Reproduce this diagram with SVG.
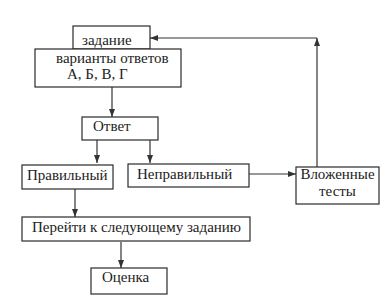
<svg xmlns="http://www.w3.org/2000/svg" width="390" height="300" viewBox="0 0 390 300">
<style>
.box{fill:#fff;stroke:#2a2a2a;stroke-width:1.2}
.t{font-family:"Liberation Serif","Times New Roman",serif;font-size:15px;fill:#222}
.c{fill:none;stroke:#333;stroke-width:1.2}
</style>
<defs>
<marker id="ah" viewBox="0 0 8 6" refX="8" refY="3" markerWidth="8" markerHeight="6" markerUnits="userSpaceOnUse" orient="auto">
<path d="M0,0 L8,3 L0,6 Z" fill="#333"/>
</marker>
</defs>
<rect width="390" height="300" fill="#fff"/>
<g id="connectors">
<path class="c" d="M112,87 V117" marker-end="url(#ah)"/>
<path class="c" d="M97,140 V163" marker-end="url(#ah)"/>
<path class="c" d="M150,140 V163" marker-end="url(#ah)"/>
<path class="c" d="M249,174 H296" marker-end="url(#ah)"/>
<path class="c" d="M317,167 V38" marker-end="url(#ah)"/>
<path class="c" d="M317,38 H150" marker-end="url(#ah)"/>
<path class="c" d="M75,189 V217" marker-end="url(#ah)"/>
<path class="c" d="M121,242 V268" marker-end="url(#ah)"/>
</g>
<g id="zadanie">
<rect class="box" x="73" y="26" width="77" height="23"/>
<text class="t" x="82" y="45">задание</text>
</g>
<g id="varianty">
<rect class="box" x="35" y="49" width="146" height="38"/>
<text class="t" x="56" y="63">варианты ответов</text>
<text class="t" x="67" y="79">А, Б, В, Г</text>
</g>
<g id="otvet">
<rect class="box" x="82" y="117" width="76" height="23"/>
<text class="t" x="93" y="131">Ответ</text>
</g>
<g id="pravilny">
<rect class="box" x="22" y="165" width="91" height="24"/>
<text class="t" x="27" y="180">Правильный</text>
</g>
<g id="nepravilny">
<rect class="box" x="128" y="164" width="121" height="23"/>
<text class="t" x="137" y="179">Неправильный</text>
</g>
<g id="vlozhennye">
<rect class="box" x="296" y="167" width="83" height="37"/>
<text class="t" x="337.5" y="179" text-anchor="middle">Вложенные</text>
<text class="t" x="337.5" y="196" text-anchor="middle">тесты</text>
</g>
<g id="pereyti">
<rect class="box" x="22" y="217" width="228" height="24"/>
<text class="t" x="32" y="232">Перейти к следующему заданию</text>
</g>
<g id="otsenka">
<rect class="box" x="91" y="268" width="76" height="26"/>
<text class="t" x="102" y="282">Оценка</text>
</g>
</svg>
